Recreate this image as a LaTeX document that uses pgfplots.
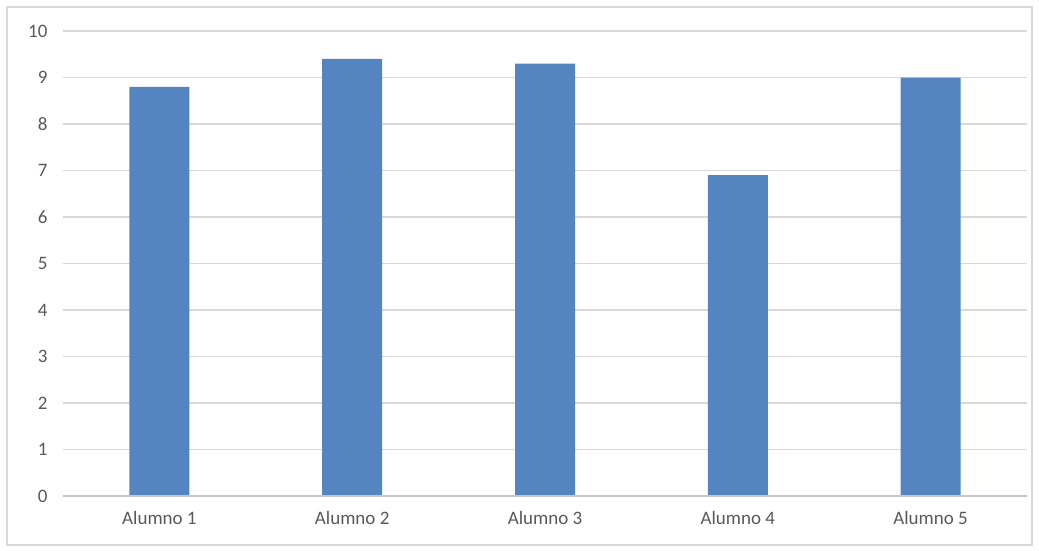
\documentclass[border=0pt]{standalone}
\usepackage{pgfplots}
\pgfplotsset{compat=1.18}
\usepackage{fontspec}
\setmainfont{Carlito}
\definecolor{barblue}{HTML}{5585C1}
\definecolor{gridgray}{HTML}{D9D9D9}
\definecolor{txtgray}{HTML}{595959}
\begin{document}
\begin{tikzpicture}
\useasboundingbox (-63pt,-54pt) rectangle (976pt,496pt);
\draw[color=gridgray, line width=1.2pt] (-56pt,-49pt) rectangle (969pt,489pt);
\begin{axis}[
  at={(0pt,0pt)}, anchor=south west,
  scale only axis,
  width=964pt, height=465pt,
  xmin=-0.5, xmax=4.5, ymin=0, ymax=10,
  ytick={0,1,...,10},
  xtick={0,1,2,3,4},
  xticklabels={Alumno 1,Alumno 2,Alumno 3,Alumno 4,Alumno 5},
  axis line style={draw=none},
  ymajorgrids, grid style={gridgray, line width=1.1pt},
  major tick length=0pt,
  /pgf/number format/assume math mode=true,
  tick label style={font=\fontsize{19}{22}\selectfont, text=txtgray},
  yticklabel style={xshift=-12pt},
  xticklabel style={yshift=-12pt},
]
\addplot[ybar, bar width=60pt, fill=barblue, draw=none] coordinates {
  (0,8.8) (1,9.4) (2,9.3) (3,6.9) (4,9.0)
};
\draw[color=gridgray!80!black!70, line width=1.1pt] (axis cs:-0.5,0) -- (axis cs:4.5,0);
\end{axis}
\end{tikzpicture}
\end{document}
